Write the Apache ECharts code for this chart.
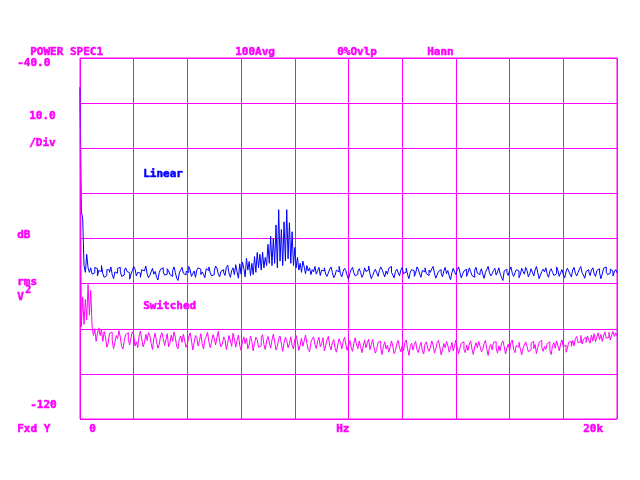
<!DOCTYPE html>
<html><head><meta charset="utf-8">
<script src="https://cdn.jsdelivr.net/npm/echarts@6/dist/echarts.min.js"></script>
<style>html,body{margin:0;padding:0;background:#fff}#c{width:640px;height:480px}</style>
</head><body><div id="c"></div>
<script>
// Frequency span (Hz) and level range (dB)
const freqStart = 0, freqStop = 20000;
const dbTop = -40, dbBottom = -120, dbPerDiv = 10;

// Linear trace (blue), 401 bins
const linear = [
-46.5,-74,-75.5,-86,-87.5,-83.5,-86.5,-87.5,-86.5,
-87.9,-87.6,-86.4,-86.7,-88.3,-87.1,-87.3,-86.0,-87.8,-88.6,
-88.2,-86.9,-87.0,-87.5,-86.3,-88.0,-88.9,-87.4,-87.7,-86.6,
-86.4,-87.2,-88.4,-88.1,-87.0,-86.5,-87.3,-87.6,-89.0,-87.9,
-87.1,-86.2,-86.8,-88.3,-87.5,-87.7,-88.6,-86.9,-87.2,-87.0,
-86.1,-87.8,-88.7,-88.2,-87.4,-86.6,-87.9,-87.3,-88.5,-89.2,
-87.6,-86.8,-86.5,-87.4,-88.1,-87.9,-86.7,-87.2,-88.0,-88.4,
-87.1,-86.3,-87.5,-88.8,-89.3,-87.6,-87.0,-86.4,-87.7,-88.1,
-87.3,-87.5,-86.2,-86.9,-88.4,-87.8,-87.2,-88.6,-87.0,-86.5,
-86.8,-88.0,-87.4,-87.9,-88.7,-86.7,-87.1,-86.3,-87.6,-88.3,
-88.0,-87.2,-86.1,-86.6,-87.8,-88.5,-87.3,-86.9,-87.5,-88.2,
-86.4,-85.9,-87.7,-88.6,-87.1,-86.5,-88.0,-85.8,-87.4,-88.8,
-85.6,-87.9,-85.2,-86.6,-88.5,-84.4,-87.0,-85.1,-88.2,
-85.5,-88,-84,-87.5,-83.1,-86.5,-83.5,-87,-83,-86.5,
-84.2,-86,-81.3,-85.5,-79.5,-86,-80,-85.5,-77,-86.5,
-73.6,-85,-78,-86,-76.3,-85,-73.6,-84.5,-76.5,-85.5,
-78.5,-86,-82,-86.5,-84.2,-87,-85.5,-87.5,-85,
-86.3,-87.8,-86.0,-87.2,-86.5,-88.0,-86.9,-87.4,-86.2,-87.9,-87.1,-86.4,-88.2,-87.0,
-87.2,-86.5,-87.9,-88.4,-87.6,-86.8,-86.3,-87.5,-88.7,-88.1,
-87.0,-87.4,-86.2,-87.8,-88.5,-87.3,-86.6,-87.1,-88.2,-89.0,
-87.7,-86.9,-86.4,-87.6,-88.3,-87.9,-87.2,-86.7,-87.5,-88.6,
-88.0,-86.5,-87.3,-87.0,-86.1,-87.8,-88.9,-88.2,-87.4,-86.8,
-87.6,-88.4,-87.1,-86.3,-86.9,-87.7,-88.5,-87.2,-87.9,-86.6,
-86.2,-87.5,-88.1,-88.7,-87.3,-86.8,-87.6,-88.3,-87.0,-86.4,
-87.8,-87.4,-86.6,-88.0,-88.9,-87.5,-86.9,-87.2,-88.4,-87.7,
-86.3,-86.8,-87.9,-88.6,-87.1,-87.4,-86.5,-87.8,-88.2,-87.0,
-87.5,-86.7,-86.2,-87.6,-88.8,-88.1,-87.3,-86.9,-87.7,-88.5,
-87.2,-86.4,-87.8,-87.1,-88.3,-89.1,-87.6,-86.6,-87.4,-88.0,
-86.9,-86.3,-87.5,-88.7,-87.9,-87.2,-86.8,-88.4,-87.6,-86.5,
-87.3,-88.2,-88.6,-87.0,-86.4,-87.7,-88.0,-87.4,-86.7,-87.9,
-88.8,-87.5,-86.9,-86.2,-87.6,-88.3,-87.8,-87.1,-86.6,-88.1,
-87.4,-86.5,-87.9,-88.6,-89.3,-87.2,-86.8,-87.5,-88.2,-87.0,
-86.3,-87.7,-88.4,-87.6,-86.9,-87.2,-88.7,-88.0,-86.6,-87.3,
-87.9,-86.4,-87.1,-88.5,-87.8,-86.7,-87.5,-88.3,-87.0,-86.2,
-87.6,-88.9,-88.1,-87.3,-86.8,-87.4,-86.5,-87.9,-88.6,-87.2,
-86.7,-87.5,-88.2,-87.8,-86.3,-87.1,-88.4,-87.6,-86.9,-88.0,
-88.7,-87.4,-86.6,-87.2,-87.9,-88.5,-87.0,-86.4,-87.7,-88.3,
-87.5,-86.8,-86.2,-87.6,-88.1,-88.8,-87.3,-86.9,-87.4,-88.2,
-87.0,-86.5,-87.8,-88.4,-87.1,-86.7,-87.6,-88.9,-87.9,-86.6,
-86.3,-87.5,-88.0,-87.7,-86.8,-87.2,-88.3,-87.4,-86.9,-87.6
];

// Switched trace (magenta), 401 bins
const switched = [
-46.5,-99.5,-93,-99,-93.5,-98,-90.2,-97,-91.5,-99.5,-101.5,-100,-102.8,-101,-99.8,-101.5,-100.2,
-102.8,-100.6,-101.9,-104.1,-103.2,-101.0,-100.8,-102.7,-104.4,-103.0,
-101.5,-102.2,-100.4,-101.8,-103.9,-104.5,-102.6,-101.3,-100.9,-102.4,
-103.6,-102.0,-100.7,-101.4,-103.8,-102.9,-104.2,-101.7,-100.5,-102.3,
-104.0,-103.1,-101.2,-102.6,-100.8,-101.5,-103.3,-104.6,-102.1,-101.0,
-102.9,-104.3,-103.5,-101.6,-100.9,-102.2,-103.7,-102.5,-101.1,-104.0,
-103.2,-101.4,-102.8,-100.7,-101.9,-103.9,-104.4,-102.3,-101.6,-103.0,
-101.2,-102.7,-104.1,-103.4,-101.8,-100.9,-102.5,-104.7,-103.1,-101.5,
-102.0,-103.8,-102.6,-101.1,-103.3,-104.5,-102.4,-101.7,-100.8,-102.9,
-104.2,-103.0,-101.3,-102.1,-103.6,-101.9,-100.6,-102.8,-104.0,-103.5,
-101.8,-102.4,-104.6,-103.2,-101.5,-102.7,-103.9,-101.0,-102.3,-104.1,
-102.6,-101.4,-103.7,-104.8,-102.9,-101.8,-103.3,-102.1,-104.4,-103.6,
-101.6,-102.8,-104.9,-103.2,-101.9,-102.4,-104.1,-103.8,-102.0,-101.3,
-103.5,-104.6,-102.7,-101.7,-103.0,-104.3,-102.5,-101.2,-102.9,-104.7,
-103.9,-102.2,-101.6,-103.4,-105.0,-103.1,-101.9,-102.6,-104.2,-103.3,
-101.8,-103.7,-104.5,-102.4,-101.5,-103.0,-104.8,-103.6,-102.1,-103.9,
-102.7,-101.4,-103.2,-104.6,-105.1,-103.0,-102.3,-101.8,-103.5,-104.4,
-102.8,-101.9,-104.0,-103.3,-102.0,-104.9,-103.7,-102.5,-101.7,-103.8,
-104.7,-103.1,-102.4,-104.3,-105.2,-103.6,-102.2,-103.0,-104.5,-102.9,
-101.9,-103.4,-104.8,-103.7,-102.6,-104.1,-105.0,-103.2,-102.0,-103.6,
-104.4,-102.7,-103.9,-105.3,-103.8,-102.5,-104.2,-103.1,-102.3,-104.6,
-103.5,-102.4,-104.1,-105.4,-104.6,-103.0,-102.8,-104.3,-105.7,-103.9,
-102.9,-104.5,-103.6,-105.2,-104.0,-102.7,-103.8,-105.5,-104.8,-103.3,
-102.6,-104.2,-105.1,-103.7,-104.9,-103.1,-102.5,-104.4,-105.9,-104.0,
-103.2,-104.7,-103.5,-102.8,-104.6,-105.3,-103.9,-103.0,-104.8,-105.6,
-103.4,-102.9,-104.3,-105.0,-104.1,-102.7,-103.6,-105.4,-104.5,-103.1,
-102.6,-104.0,-105.8,-104.7,-103.3,-104.2,-102.8,-103.7,-105.2,-104.4,
-103.0,-104.9,-103.8,-102.5,-104.1,-105.5,-104.3,-103.2,-102.9,-104.6,
-105.3,-103.6,-104.8,-103.4,-102.7,-104.5,-105.7,-104.0,-103.1,-104.2,
-102.8,-103.9,-105.1,-104.6,-103.3,-102.6,-104.4,-105.9,-104.1,-103.5,
-104.7,-103.0,-102.9,-104.3,-105.4,-103.8,-104.9,-103.2,-102.7,-104.0,
-105.6,-104.2,-103.4,-104.8,-103.1,-102.5,-104.6,-105.3,-103.7,-104.1,
-103.0,-104.5,-105.8,-104.3,-103.6,-102.9,-104.0,-105.1,-104.7,-103.2,
-102.8,-104.4,-103.5,-105.5,-104.1,-103.0,-102.6,-104.2,-105.0,-103.9,
-104.6,-103.3,-102.9,-104.8,-105.7,-103.7,-103.1,-104.3,-102.7,-103.8,
-104.9,-103.4,-102.5,-104.0,-103.6,-105.2,-104.4,-103.0,-102.8,-103.9,
-102.6,-103.8,-102.2,-101.7,-103.1,-102.9,-101.5,-103.4,-102.3,-101.9,
-103.0,-101.6,-102.5,-103.2,-101.4,-102.7,-101.1,-102.9,-101.8,-100.9,
-102.4,-101.3,-102.8,-101.6,-100.7,-102.1,-101.9,-100.8,-102.5,-101.4,
-100.6,-101.7,-100.9,-101.6
];

// Annotation texts
const headerTexts = ['POWER SPEC1', '100Avg', '0%Ovlp', 'Hann'];
const yTopLabel = '-40.0', yBottomLabel = '-120';
const scaleTexts = ['10.0', '/Div'];
const unitTexts = ['dB', 'rms', 'V', '2'];
const xLabels = ['0', 'Hz', '20k'];
const footLeft = 'Fxd Y';
const traceNames = ['Linear', 'Switched'];

const MAG = '#ff00ff', BLUE = '#0000ff';
const FONT = 'bold 11px "DejaVu Sans Mono", "Liberation Mono", monospace';

function pairs(arr) {
  const n = arr.length, step = (freqStop - freqStart) / (n - 1);
  return arr.map((v, i) => [freqStart + i * step, v]);
}
function txt(s, x, y, color, font) {
  const c = color || MAG;
  return { type: 'text', left: x, top: y - 6, silent: true,
    style: { text: s, fill: c, stroke: c, lineWidth: 0.5, font: font || FONT, textVerticalAlign: 'top' } };
}

const chart = echarts.init(document.getElementById('c'), null, { renderer: 'canvas' });
chart.setOption({
  animation: false,
  backgroundColor: '#fff',
  grid: { left: 80, top: 58, width: 537, height: 361, show: true, borderColor: MAG, borderWidth: 1, backgroundColor: 'transparent' },
  xAxis: {
    type: 'value', min: freqStart, max: freqStop, interval: (freqStop - freqStart) / 10,
    axisLine: { show: false }, axisTick: { show: false }, axisLabel: { show: false },
    splitLine: { show: true, lineStyle: { color: MAG, width: 1 } }
  },
  yAxis: {
    type: 'value', min: dbBottom, max: dbTop, interval: dbPerDiv,
    axisLine: { show: false }, axisTick: { show: false }, axisLabel: { show: false },
    splitLine: { show: true, lineStyle: { color: MAG, width: 1 } }
  },
  series: [
    { type: 'line', data: pairs(linear), step: 'end', showSymbol: false, symbol: 'none',
      lineStyle: { color: BLUE, width: 1 }, itemStyle: { color: BLUE }, z: 3 },
    { type: 'line', data: pairs(switched), step: 'end', showSymbol: false, symbol: 'none',
      lineStyle: { color: MAG, width: 1 }, itemStyle: { color: MAG }, z: 4 }
  ],
  graphic: [
    txt(headerTexts[0], 30, 52),
    txt(headerTexts[1], 235, 52),
    txt(headerTexts[2], 337, 52),
    txt(headerTexts[3], 427, 52),
    txt(yTopLabel, 17, 63),
    txt(scaleTexts[0], 29, 116),
    txt(scaleTexts[1], 29, 143),
    txt(unitTexts[0], 17, 235),
    txt(unitTexts[1], 17, 282),
    txt(unitTexts[2], 17, 297),
    txt(unitTexts[3], 25, 291, MAG, 'bold 10px "DejaVu Sans Mono", monospace'),
    txt(yBottomLabel, 30, 405),
    txt(footLeft, 17, 429),
    txt(xLabels[0], 89, 429),
    txt(xLabels[1], 336, 429),
    txt(xLabels[2], 583, 429),
    txt(traceNames[0], 143, 174, BLUE),
    txt(traceNames[1], 143, 306, MAG)
  ]
});
</script></body></html>
